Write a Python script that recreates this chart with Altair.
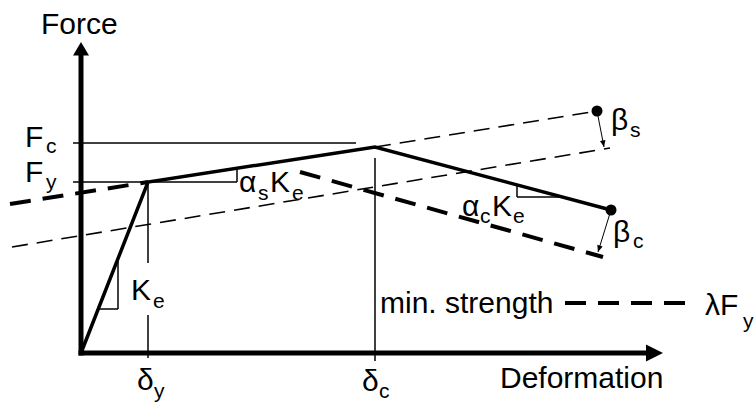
import math
import altair as alt
import pandas as pd

# ---- backbone curve (deformation, force) : origin -> yield -> capping -> end
backbone_d = [0.0, 6.7, 29.4, 53.0]
backbone_f = [0.0, 17.1, 20.6, 14.3]

# ---- thin solid construction lines (d1, f1, d2, f2)
thin_solid = [
    (-0.8, 21.0, 27.5, 21.0),   # Fc reference
    (-0.8, 17.1, 15.6, 17.1),   # Fy reference + alpha_s run
    (15.6, 17.1, 15.6, 18.5),   # alpha_s rise
    (1.8, 4.4, 3.7, 4.4),       # Ke run
    (3.7, 4.4, 3.7, 9.2),       # Ke rise
    (43.6, 16.7, 43.6, 15.6),   # alpha_c drop
    (43.6, 15.6, 48.1, 15.6),   # alpha_c run
    (6.7, 17.1, 6.7, 9.0),      # delta_y (upper part)
    (6.7, 3.8, 6.7, -0.5),      # delta_y (lower part)
    (29.4, 19.5, 29.4, -0.8),   # delta_c
]

# ---- thin dashed lines
thin_dashed = [
    (29.4, 20.6, 51.6, 24.2),   # hardening branch continued past capping
    (-6.9, 10.6, 52.9, 20.5),   # hardening branch after strength loss
]

# ---- thick dashed lines
thick_dashed = [
    (-7.1, 14.9, 6.7, 17.1),    # hardening branch continued backwards
    (21.9, 18.1, 52.2, 9.6),    # softened post-capping branch
    (48.4, 5.0, 60.5, 5.0),     # min. strength legend sample
]

# ---- deterioration arrows (from, to) and end-point dots
arrows = [
    (51.6, 24.2, 52.3, 20.6),   # beta_s
    (53.0, 14.3, 51.7, 10.1),   # beta_c
]
dots_d = [51.6, 53.0]
dots_f = [24.2, 14.3]

# ---- text labels
label_text = ["Force", "Deformation",
              "F", "c", "F", "y",
              "\u03b4", "y", "\u03b4", "c",
              "K", "e",
              "\u03b1", "s", "K", "e",
              "\u03b1", "c", "K", "e",
              "\u03b2", "s", "\u03b2", "c",
              "min. strength", "\u03bbF", "y"]
label_d = [-4.0, 41.9,
           -5.6, -3.5, -5.6, -3.5,
           5.6, 7.3, 28.1, 29.8,
           5.0, 7.2,
           15.8, 17.7, 18.9, 21.1,
           38.1, 39.9, 41.1, 43.2,
           53.0, 54.9, 53.2, 55.2,
           29.9, 62.4, 66.2]
label_f = [31.9, -3.5,
           20.6, 20.0, 17.1, 16.4,
           -3.7, -4.5, -3.8, -4.5,
           5.3, 4.5,
           16.1, 15.3, 16.1, 15.3,
           13.7, 13.0, 13.7, 13.0,
           22.3, 21.6, 11.1, 10.5,
           4.0, 3.8, 2.5]
label_size = [30, 30,
              30, 21, 30, 21,
              30, 21, 30, 21,
              30, 21,
              30, 21, 30, 21,
              30, 21, 30, 21,
              30, 21, 30, 21,
              30, 30, 21]

# ---- axes extents
axis_d_end = 58.2
axis_f_end = 31.1

FONT = "Liberation Sans"
xs = alt.Scale(domain=[-8.1, 67.4], nice=False, zero=False)
ys = alt.Scale(domain=[-5.0, 35.3], nice=False, zero=False)


def seg_frame(rows):
    return pd.DataFrame(rows, columns=["d1", "f1", "d2", "f2"])


def seg_layer(rows, width, dash=None, cap="butt"):
    kw = dict(color="black", strokeWidth=width, strokeCap=cap)
    if dash:
        kw["strokeDash"] = dash
    return alt.Chart(seg_frame(rows)).mark_rule(**kw).encode(
        x=alt.X("d1:Q", scale=xs, axis=None),
        y=alt.Y("f1:Q", scale=ys, axis=None),
        x2="d2:Q",
        y2="f2:Q",
    )


backbone = alt.Chart(pd.DataFrame({
    "d": backbone_d, "f": backbone_f, "o": list(range(len(backbone_d)))
})).mark_line(color="black", strokeWidth=3.5, strokeJoin="miter").encode(
    x=alt.X("d:Q", scale=xs, axis=None),
    y=alt.Y("f:Q", scale=ys, axis=None),
    order="o:Q",
)

axes = seg_layer([(-0.25, 0.0, axis_d_end - 1.2, 0.0),
                  (0.0, -0.25, 0.0, axis_f_end - 1.0)], 5)

y_head = alt.Chart(pd.DataFrame({"d": [0.0], "f": [axis_f_end]})).mark_point(
    shape="M0,0L-1,1.7L1,1.7Z", size=256, filled=True, color="black",
    opacity=1, strokeWidth=0,
).encode(x=alt.X("d:Q", scale=xs, axis=None), y=alt.Y("f:Q", scale=ys, axis=None))

x_head = alt.Chart(pd.DataFrame({"d": [axis_d_end], "f": [0.0]})).mark_point(
    shape="M0,0L-2,-1L-2,1Z", size=289, filled=True, color="black",
    opacity=1, strokeWidth=0,
).encode(x=alt.X("d:Q", scale=xs, axis=None), y=alt.Y("f:Q", scale=ys, axis=None))

arrow_lines = seg_layer(arrows, 1)
heads = pd.DataFrame({
    "d": [a[2] for a in arrows],
    "f": [a[3] for a in arrows],
    "ang": [math.degrees(math.atan2(a[2] - a[0], a[3] - a[1])) % 360 for a in arrows],
})
arrow_heads = alt.Chart(heads).mark_point(
    shape="M0,0L-1,2.4L1,2.4Z", size=31, filled=True, color="black",
    opacity=1, strokeWidth=0,
).encode(
    x=alt.X("d:Q", scale=xs, axis=None),
    y=alt.Y("f:Q", scale=ys, axis=None),
    angle=alt.Angle("ang:Q", scale=None),
)

dots = alt.Chart(pd.DataFrame({"d": dots_d, "f": dots_f})).mark_point(
    shape="circle", size=121, filled=True, color="black", opacity=1, strokeWidth=0,
).encode(x=alt.X("d:Q", scale=xs, axis=None), y=alt.Y("f:Q", scale=ys, axis=None))

labels = alt.Chart(pd.DataFrame({
    "t": label_text, "d": label_d, "f": label_f, "s": label_size
})).mark_text(
    font=FONT, align="left", baseline="alphabetic", color="black",
).encode(
    x=alt.X("d:Q", scale=xs, axis=None),
    y=alt.Y("f:Q", scale=ys, axis=None),
    text="t:N",
    size=alt.Size("s:Q", scale=None),
)

chart = alt.layer(
    seg_layer(thin_solid, 1.5),
    seg_layer(thin_dashed, 1.6, dash=[16, 9]),
    seg_layer(thick_dashed, 4, dash=[21, 12]),
    backbone,
    axes,
    y_head,
    x_head,
    arrow_lines,
    arrow_heads,
    dots,
    labels,
).properties(
    width=755,
    height=403,
    padding=0,
    autosize=alt.AutoSizeParams(type="none"),
    background="white",
).configure_view(stroke=None)

chart.save("out.html", embed_options={"renderer": "svg", "actions": False})
